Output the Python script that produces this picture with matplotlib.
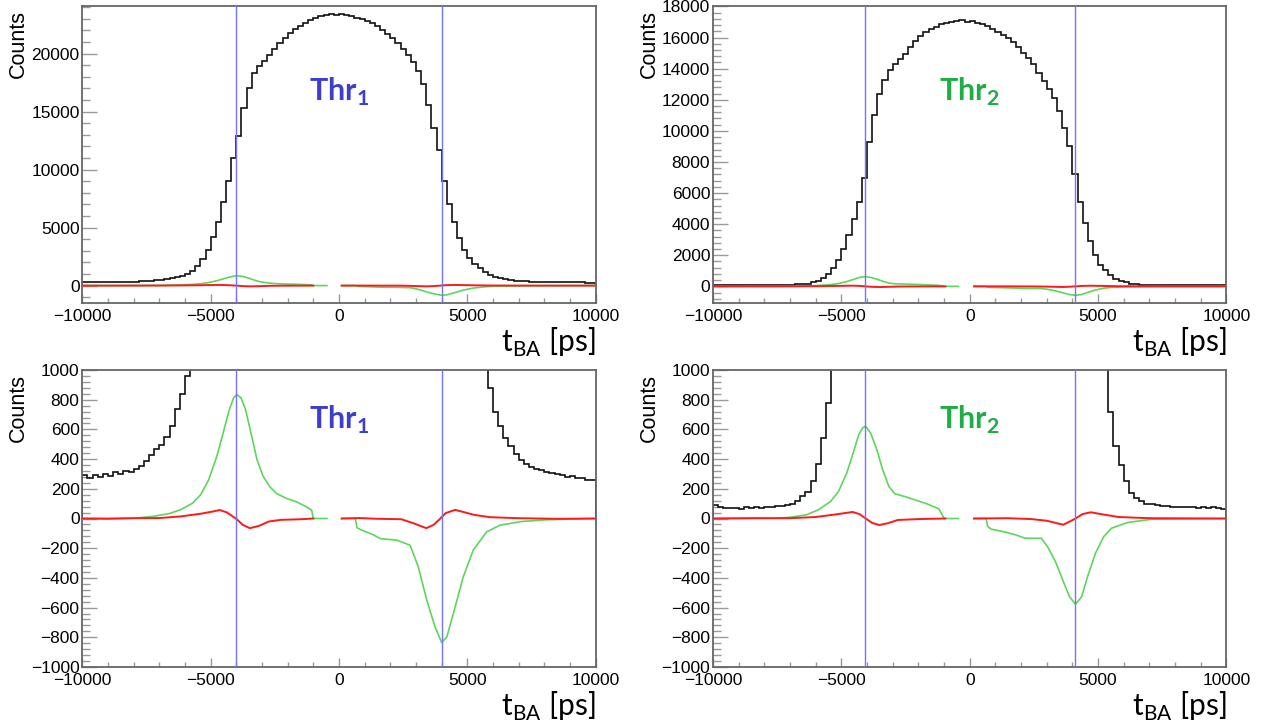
import numpy as np
import matplotlib
matplotlib.use('Agg')
import matplotlib.pyplot as plt
from matplotlib.ticker import MultipleLocator

plt.rcParams['font.family'] = ['Liberation Sans', 'DejaVu Sans']
plt.rcParams['mathtext.fontset'] = 'custom'
plt.rcParams['mathtext.rm'] = 'Lato'
plt.rcParams['mathtext.bf'] = 'Lato:bold'

# ---------------- data ----------------
bin_width = 200  # ps

# black histograms, bin centres -9900 ... 9900
counts_thr1 = [
    295, 272, 290, 278, 300, 288, 310, 298, 318, 312,
    335, 355, 390, 430, 465, 495, 550, 620, 740, 840,
    960, 1250, 1650, 2250, 3050, 4150, 5500, 7200, 9000, 11000,
    12900, 15300, 17000, 18300, 18900, 19400, 19900, 20400, 20900, 21300,
    21800, 22100, 22400, 22600, 22900, 23100, 23250, 23300, 23450, 23350,
    23400, 23300, 23200, 23100, 23000, 22800, 22600, 22400, 22000, 21700,
    21300, 20900, 20400, 19900, 19300, 18500, 17400, 15600, 13600, 11700,
    9000, 7000, 5500, 4100, 3100, 2400, 1900, 1550, 1150, 880,
    720, 620, 545, 490, 435, 395, 365, 350, 335, 325,
    315, 305, 300, 290, 280, 285, 270, 275, 262, 258,
]
counts_thr2 = [
    90, 75, 70, 68, 72, 65, 75, 70, 78, 72,
    80, 78, 85, 82, 92, 100, 120, 150, 180, 250,
    370, 540, 780, 1150, 1700, 2400, 3300, 4350, 5400, 7000,
    9300, 11000, 12400, 13300, 13900, 14300, 14600, 14950, 15400, 15800,
    16100, 16350, 16550, 16700, 16850, 16950, 17000, 17050, 17100, 17000,
    17050, 16950, 16850, 16750, 16550, 16350, 16150, 15950, 15700, 15400,
    15000, 14700, 14300, 13700, 13200, 12700, 12100, 11300, 10200, 9000,
    7200, 5400, 4100, 2900, 2000, 1350, 1050, 720, 490, 360,
    250, 175, 140, 115, 100, 95, 90, 85, 82, 80,
    78, 80, 75, 78, 72, 80, 74, 76, 70, 65,
]

# green curves (NaN = gap around 0)
green1_t = [-10000, -8000, -7260, -6640, -6170, -5700, -5390, -5075, -4760, -4530,
            -4290, -4105, -3980, -3820, -3640, -3430, -3200, -2960, -2690, -2430,
            -2040, -1650, -1260, -1065, -1000, -470, np.nan,
            105, 640, 700, 870, 1340, 1600, 2250, 2770, 3090, 3420, 3740, 4000,
            4200, 4455, 4840, 5230, 5750, 6270, 7120, 8060, 10000]
green1_v = [0, 2, 14, 32, 59, 104, 160, 261, 419, 565,
            723, 813, 835, 813, 734, 576, 400, 285, 213, 168,
            135, 112, 78, 56, 0, 0, np.nan,
            0, 0, -62, -77, -110, -135, -146, -180, -326, -550, -730, -835,
            -797, -640, -393, -213, -90, -45, -20, -9, 0]

green2_t = [-10000, -7500, -6980, -6360, -5890, -5420, -5110, -4790, -4560, -4320,
            -4170, -4060, -3860, -3620, -3390, -3150, -2920, -2450, -2140, -1670,
            -1200, -1040, -1000, -440, np.nan,
            170, 640, 700, 840, 1310, 1780, 2170, 2560, 2790, 3030, 3340, 3650,
            3890, 4120, 4360, 4590, 4900, 5220, 5530, 6150, 7090, 10000]
green2_v = [0, 2, 9, 25, 59, 115, 182, 306, 430, 565,
            610, 622, 576, 464, 329, 216, 167, 144, 126, 99,
            65, 14, 0, 0, np.nan,
            0, 0, -54, -72, -88, -110, -133, -133, -133, -189, -290, -426,
            -527, -577, -527, -392, -234, -122, -65, -27, -5, 0]

# red curves
red1_t = [-10000, -9000, -8000, -7000, -6170, -5390, -4920, -4640, -4370, -4140,
          -3980, -3750, -3470, -3120, -2730, -2260, -1480, -1000, np.nan,
          105, 800, 1500, 2430, 2900, 3400, 3680, 3920, 4150, 4520, 4780,
          5250, 5870, 7000, 8500, 10000]
red1_v = [0, -2, 2, 3, 14, 32, 47, 57, 41, 14,
          -5, -43, -65, -50, -20, -9, -5, 0, np.nan,
          0, 3, -2, -5, -32, -65, -43, -5, 36, 58, 47,
          25, 9, 2, -2, 0]

red2_t = [-10000, -8500, -7000, -6000, -5200, -4560, -4300, -4050, -3800, -3520,
          -3200, -2800, -2000, -950, np.nan,
          170, 1500, 2400, 3000, 3640, 3900, 4120, 4400, 4720, 5100,
          5800, 7000, 10000]
red2_v = [0, 2, 2, 10, 28, 44, 30, 0, -30, -44,
          -32, -10, -4, 0, np.nan,
          0, 2, -4, -15, -42, -20, 0, 30, 42, 30,
          10, 2, 0]

cuts_thr1 = [-4000, 4000]
cuts_thr2 = [-4075, 4120]

# ---------------- drawing ----------------
fig = plt.figure(figsize=(12.61, 7.23), dpi=100)

W = 513.4 / 1261
H = 297 / 723
panels = [
    # left, bottom, data, ylim, major, minor, label, color, label y
    (82.3 / 1261, 1 - 303 / 723, 1, (-1500, 24100), 5000, 1000, r'Thr$_{\mathbf{1}}$', '#3d3dd2', 0.71),
    (713 / 1261, 1 - 303 / 723, 2, (-1070, 18030), 2000, 400, r'Thr$_{\mathbf{2}}$', '#1fae46', 0.71),
    (82.3 / 1261, 1 - 667 / 723, 1, (-1000, 1000), 200, 40, r'Thr$_{\mathbf{1}}$', '#3d3dd2', 0.832),
    (713 / 1261, 1 - 667 / 723, 2, (-1000, 1000), 200, 40, r'Thr$_{\mathbf{2}}$', '#1fae46', 0.832),
]

edges = np.arange(-10000, 10001, bin_width)

for left, bottom, thr, ylim, major, minor, label, lcol, ly in panels:
    ax = fig.add_axes([left, bottom, W, H])
    if thr == 1:
        counts, gt, gv, rt, rv, cuts = counts_thr1, green1_t, green1_v, red1_t, red1_v, cuts_thr1
    else:
        counts, gt, gv, rt, rv, cuts = counts_thr2, green2_t, green2_v, red2_t, red2_v, cuts_thr2

    ax.stairs(counts, edges, color='#111111', lw=1.2, zorder=2)
    ax.plot(gt, gv, color='#5cd65c', lw=1.2, zorder=3)
    ax.plot(rt, rv, color='#ff1a1a', lw=1.4, zorder=4)
    for c in cuts:
        ax.axvline(c, color='#7373ff', lw=1.0, zorder=5)

    ax.set_xlim(-10000, 10000)
    ax.set_ylim(*ylim)
    ax.xaxis.set_major_locator(MultipleLocator(5000))
    ax.xaxis.set_minor_locator(MultipleLocator(1000))
    ax.yaxis.set_major_locator(MultipleLocator(major))
    ax.yaxis.set_minor_locator(MultipleLocator(minor))
    ax.tick_params(axis='both', which='both', direction='in', color='#999999',
                   labelsize=12.5, top=False, right=False)
    ax.tick_params(axis='y', which='major', length=11, width=1, pad=2)
    ax.tick_params(axis='y', which='minor', length=6, width=1)
    ax.tick_params(axis='x', which='major', length=6.5, width=1, pad=4)
    ax.tick_params(axis='x', which='minor', length=3.3, width=1)
    for s in ax.spines.values():
        s.set_color('#666666')
        s.set_linewidth(1.3)

    ax.text(-64 / 513.4, 0.987, 'Counts', rotation=90, ha='center', va='top',
            fontsize=15.5, transform=ax.transAxes)
    ax.text(1.0, -39 / 297, r't$_{\mathrm{BA}}$ [ps]', ha='right', va='center',
            fontsize=21.5, family='Lato', transform=ax.transAxes)
    ax.text(0.5, ly, label, ha='center', va='center', fontsize=22,
            family='Lato', fontweight='bold', color=lcol, transform=ax.transAxes)

fig.savefig('out.png', dpi=100)
